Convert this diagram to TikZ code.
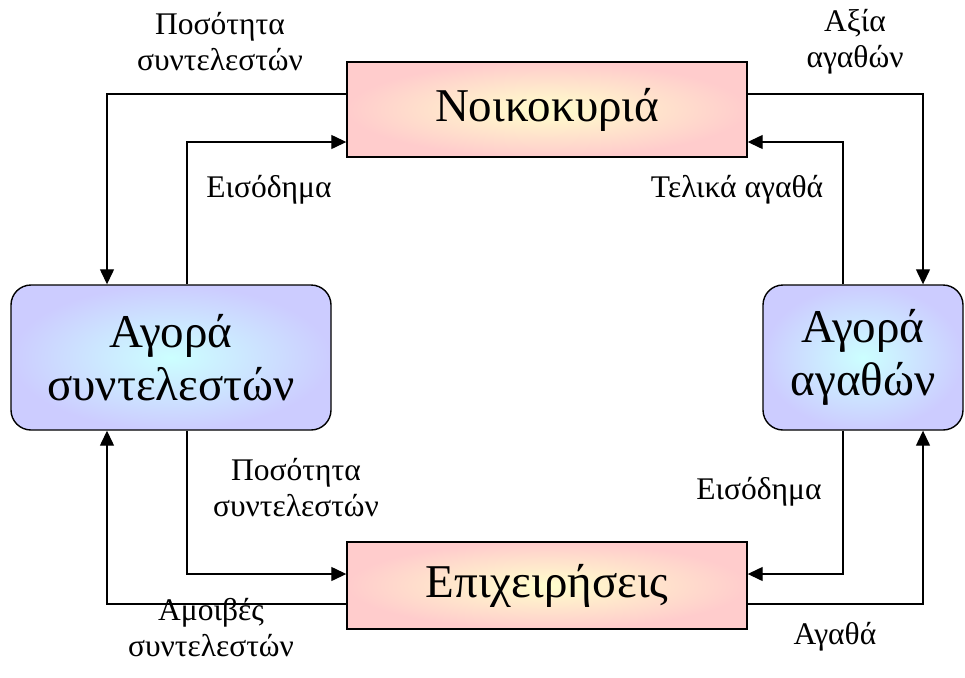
\documentclass[tikz,border=0pt]{standalone}
\usepackage{fontspec}
\setmainfont{Liberation Serif}
\usetikzlibrary{arrows.meta}

\tikzset{
    sector/.style={draw, line width=1.4pt, minimum width=400pt, inner sep=0pt,
        shading=radial, inner color=yellow!20, outer color=red!20,
        font=\fontsize{47}{53}\selectfont},
    market/.style={draw, line width=1.4pt, rounded corners=20pt, inner sep=0pt,
        align=center, shading=radial, inner color=cyan!20, outer color=blue!20,
        font=\fontsize{47}{53}\selectfont},
    flow/.style={line width=1.3pt, -{Triangle[length=15pt,width=14pt]}},
    tag/.style={align=center, font=\fontsize{31.5}{36}\selectfont}
}

\begin{document}
\begin{tikzpicture}[x=1pt, y=-1pt]
    \useasboundingbox (0,0) rectangle (965,677);

    % Draw the households and the firms
    \node[sector, minimum height=95pt] (hh) at (547,109.5) {Νοικοκυριά};
    \node[sector, minimum height=87pt] (fi) at (547,585.5) {Επιχειρήσεις};

    % Draw the two markets
    \node[market, minimum width=320pt, minimum height=145pt] (fm) at (171,357.5) {Αγορά\\συντελεστών};
    \node[market, minimum width=200pt, minimum height=145pt] (gm) at (863,357.5) {Αγορά\\αγαθών};

    % Draw the flows between households and markets
    \draw[flow] ([yshift=15.5pt]hh.west) -| ([xshift=-64pt]fm.north);
    \draw[flow] ([xshift=16pt]fm.north) |- ([yshift=-32.5pt]hh.west);
    \draw[flow] ([yshift=15.5pt]hh.east) -| ([xshift=60pt]gm.north);
    \draw[flow] ([xshift=-20pt]gm.north) |- ([yshift=-32.5pt]hh.east);

    % Draw the flows between firms and markets
    \draw[flow] ([xshift=16pt]fm.south) |- ([yshift=11.5pt]fi.west);
    \draw[flow] ([yshift=-18.5pt]fi.west) -| ([xshift=-64pt]fm.south);
    \draw[flow] ([xshift=-20pt]gm.south) |- ([yshift=11.5pt]fi.east);
    \draw[flow] ([yshift=-18.5pt]fi.east) -| ([xshift=60pt]gm.south);

    % Labels for the flows
    \node[tag] (q1) at (220,42) {Ποσότητα\\συντελεστών};
    \node[tag] (v1) at (855,42) {Αξία\\αγαθών};
    \node[tag] (i1) at (269,190) {Εισόδημα};
    \node[tag] (t1) at (737,190) {Τελικά αγαθά};
    \node[tag] (q2) at (296,488) {Ποσότητα\\συντελεστών};
    \node[tag] (i2) at (759,492) {Εισόδημα};
    \node[tag] (w1) at (211,628) {Αμοιβές\\συντελεστών};
    \node[tag] (g1) at (835,637) {Αγαθά};
\end{tikzpicture}
\end{document}
